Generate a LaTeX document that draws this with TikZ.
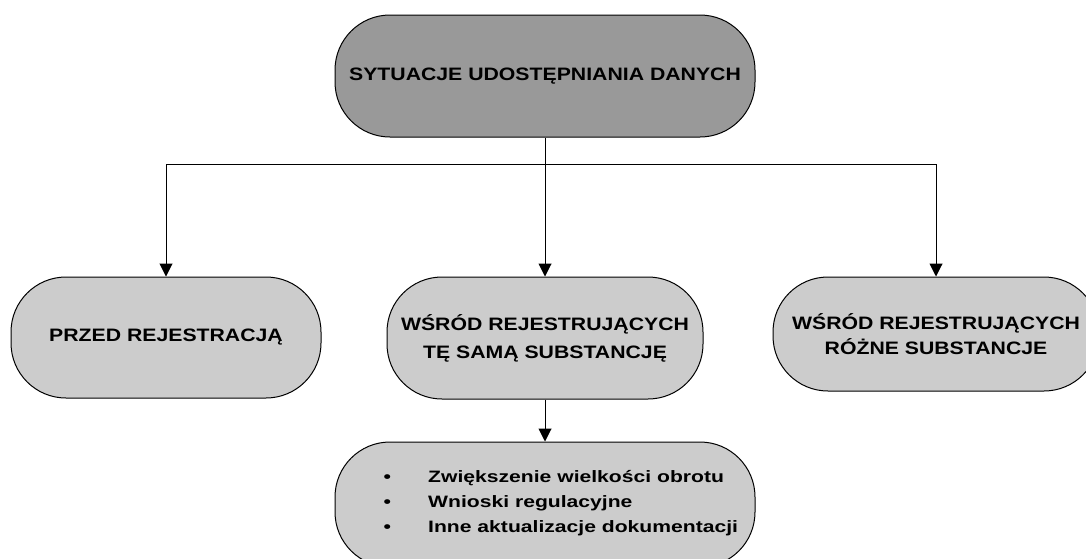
\documentclass[tikz,border=0pt]{standalone}
\usepackage{fontspec}
\setmainfont{Liberation Sans}
\newfontfamily\mainf{Liberation Sans}[FakeStretch=1.18]
\newfontfamily\listf{Liberation Sans}[FakeStretch=1.28]
\usetikzlibrary{arrows.meta}
\definecolor{darkfill}{HTML}{999999}
\definecolor{lightfill}{HTML}{CCCCCC}
\begin{document}
\begin{tikzpicture}[x=1pt,y=-1pt,
  pill/.style={draw=black, line width=1pt, rounded corners=55pt, inner sep=0pt, align=center,
    font=\mainf\bfseries\fontsize{18}{26}\selectfont},
  conn/.style={draw=black, line width=1pt, -{Triangle[length=13pt,width=13pt]}},
  plainline/.style={draw=black, line width=1pt}
]
\useasboundingbox[fill=white] (0,0) rectangle (1086,558);
\node[pill, fill=darkfill, minimum width=420pt, minimum height=122pt] (top) at (545,76) {SYTUACJE UDOSTĘPNIANIA DANYCH};
\node[pill, fill=lightfill, minimum width=310pt, minimum height=121pt] (left) at (166,337.5) {PRZED REJESTRACJĄ};
\node[pill, fill=lightfill, minimum width=316pt, minimum height=122pt, font=\mainf\bfseries\fontsize{18}{28}\selectfont] (mid) at (545,338) {WŚRÓD REJESTRUJĄCYCH\\TĘ SAMĄ SUBSTANCJĘ};
\node[pill, fill=lightfill, minimum width=326pt, minimum height=114pt, font=\mainf\bfseries\fontsize{18}{24.5}\selectfont] (right) at (936,334) {WŚRÓD REJESTRUJĄCYCH\\RÓŻNE SUBSTANCJE};
\node[pill, fill=lightfill, minimum width=420pt, minimum height=125pt] (bottom) at (545,504.5) {};
\node[anchor=west, inner sep=0pt, align=left, font=\listf\bfseries\fontsize{16.5}{25}\selectfont] (list) at (387,503)
  {\makebox[0pt][c]{•}\hspace{41pt}Zwiększenie wielkości obrotu\\
   \makebox[0pt][c]{•}\hspace{41pt}Wnioski regulacyjne\\
   \makebox[0pt][c]{•}\hspace{41pt}Inne aktualizacje dokumentacji};
\coordinate (hub) at (545,164);
\draw[plainline] (top.south) -- (hub);
\draw[conn] (hub) -| (left.north);
\draw[conn] (hub) -| (right.north);
\draw[conn] (hub) -- (mid.north);
\draw[conn] (mid.south) -- (bottom.north);
\end{tikzpicture}
\end{document}
